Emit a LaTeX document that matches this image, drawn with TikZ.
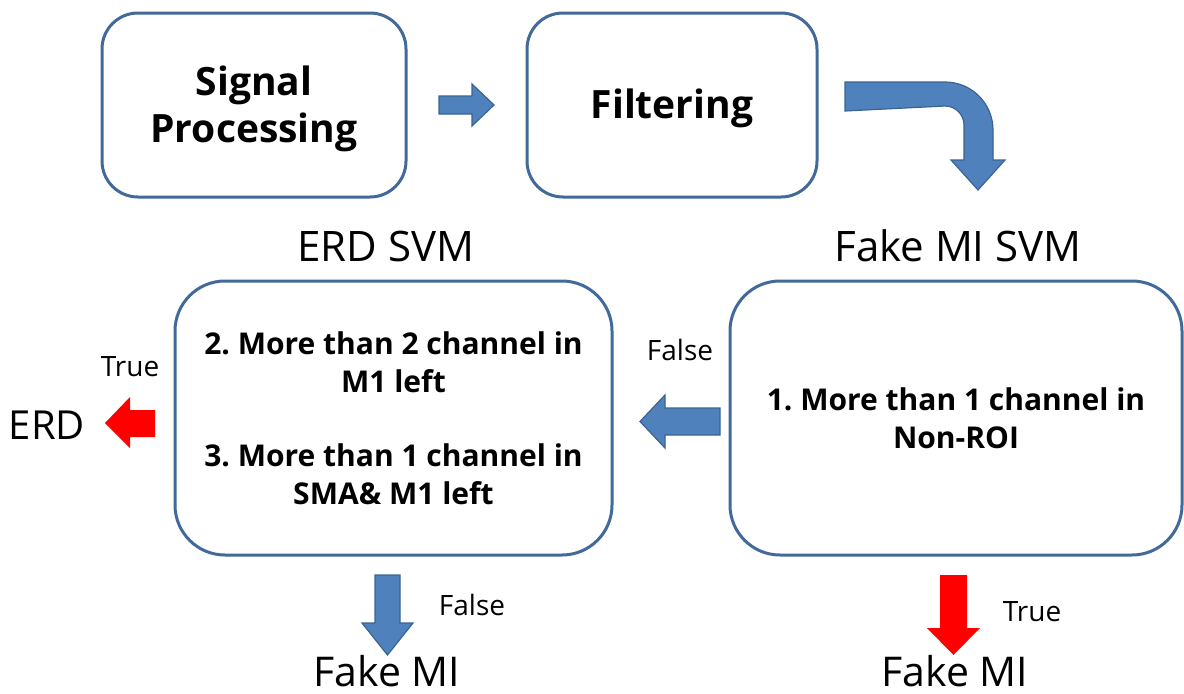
\documentclass[tikz,border=0pt]{standalone}
\usepackage{fontspec}
\setmainfont{Open Sans}
\frenchspacing
\definecolor{boxline}{HTML}{41699A}
\definecolor{arrowblue}{HTML}{4F81BD}
\definecolor{arrowedge}{HTML}{3A6493}
\begin{document}
\begin{tikzpicture}[x=0.5pt,y=0.5pt,
    stepbox/.style={draw=boxline,line width=1.5pt,rounded corners=18pt,align=center,font=\bfseries\fontsize{19.5}{23.5}\selectfont},
    testbox/.style={draw=boxline,line width=1.5pt,rounded corners=25pt,align=center,font=\bfseries\fontsize{15}{19}\selectfont},
    title/.style={font=\fontsize{21}{24}\selectfont},
    answer/.style={font=\fontsize{14}{16}\selectfont},
    result/.style={font=\fontsize{20.5}{24}\selectfont,inner sep=0pt,anchor=base},
    blockblue/.style={fill=arrowblue,draw=arrowedge,line width=0.6pt,line join=miter},
    blockred/.style={fill=red}]
  \useasboundingbox (0,0) rectangle (1184,693);
  % top row
  \node[stepbox,minimum width=152pt,minimum height=92pt] (signal) at (254,588) {};
  \node[stepbox,minimum width=145pt,minimum height=92pt] (filter) at (672,588) {};
  \node[font=\bfseries\fontsize{19.5}{23.5}\selectfont,align=center] at (254,584) {Signal\\Processing};
  \node[font=\bfseries\fontsize{19.5}{23.5}\selectfont] at (672,585) {Filtering};
  % classifiers
  \node[title] (erdsvm) at (386,447) {ERD SVM};
  \node[title] (fakesvm) at (958,447) {Fake MI SVM};
  \node[testbox,minimum width=218.5pt,minimum height=137pt] (erdtest) at (393.5,275)
    {2. More than 2 channel in\\M1 left\\[18pt]3. More than 1 channel in\\SMA\& M1 left};
  \node[testbox,minimum width=226pt,minimum height=137pt] (faketest) at (956,275)
    {1. More than 1 channel in\\Non-ROI};
  % results
  \node[font=\fontsize{20}{24}\selectfont] (erd) at (47,268) {ERD};
  \node[result] (fakeleft) at (387,7) {Fake MI};
  \node[result] (fakeright) at (955,7) {Fake MI};
  \node[answer] (falsemid) at (680,343) {False};
  \node[answer] (trueerd) at (130,326) {True};
  \node[answer] (falsedown) at (472,88) {False};
  \node[answer] (truedown) at (1032,81) {True};
  % block arrows
  \draw[blockblue] (439,597) -- (472,597) -- (472,609) -- (494,588) -- (472,567) -- (472,579) -- (439,579) -- cycle;
  \draw[blockblue] (845,611) -- (945,611) arc[start angle=90,end angle=0,radius=24pt]
    -- (993,533) -- (1005,533) -- (978,503) -- (951,533) -- (964,533) -- (964,568)
    arc[start angle=0,end angle=90,radius=9.5pt] -- (845,582) -- cycle;
  \draw[blockblue] (720,285) -- (665,285) -- (665,298) -- (640,271.5) -- (665,245) -- (665,258) -- (720,258) -- cycle;
  \fill[blockred] (155,283) -- (130,283) -- (130,296) -- (105,270) -- (130,245) -- (130,256) -- (155,256) -- cycle;
  \draw[blockblue] (375,118) -- (400,118) -- (400,70) -- (413,70) -- (387.5,38) -- (362,70) -- (375,70) -- cycle;
  \fill[blockred] (940,118) -- (967,118) -- (967,65) -- (980,65) -- (953.5,38) -- (927,65) -- (940,65) -- cycle;
\end{tikzpicture}
\end{document}
